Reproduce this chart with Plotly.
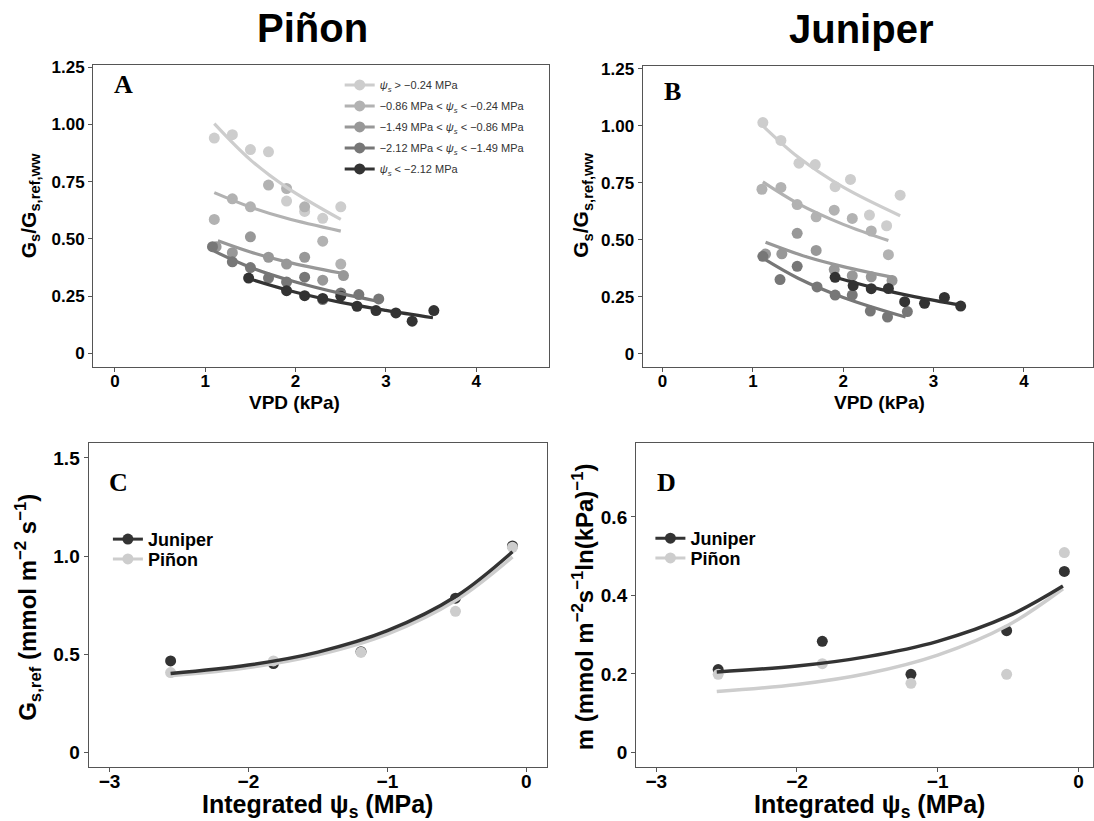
import plotly.graph_objects as go

W, H = 1094, 821

# ---------------- data: panel A (Piñon) ----------------
series_labels = [
    "<i>ψ<sub>s</sub></i> > −0.24 MPa",
    "−0.86 MPa < <i>ψ<sub>s</sub></i> < −0.24 MPa",
    "−1.49 MPa < <i>ψ<sub>s</sub></i> < −0.86 MPa",
    "−2.12 MPa < <i>ψ<sub>s</sub></i> < −1.49 MPa",
    "<i>ψ<sub>s</sub></i> < −2.12 MPa",
]
series_colors = ["#cdcdcd", "#b2b2b2", "#989898", "#777777", "#333333"]

a1_x = [1.1, 1.3, 1.5, 1.7, 1.9, 2.1, 2.3, 2.5]
a1_y = [0.94, 0.955, 0.89, 0.88, 0.665, 0.62, 0.59, 0.64]
a2_x = [1.1, 1.3, 1.5, 1.7, 1.9, 2.1, 2.3, 2.5]
a2_y = [0.585, 0.675, 0.64, 0.735, 0.72, 0.64, 0.49, 0.39]
a3_x = [1.12, 1.3, 1.5, 1.7, 1.9, 2.1, 2.3, 2.53]
a3_y = [0.466, 0.44, 0.509, 0.42, 0.39, 0.42, 0.32, 0.34]
a4_x = [1.08, 1.3, 1.5, 1.7, 1.9, 2.1, 2.3, 2.5, 2.7, 2.92]
a4_y = [0.466, 0.40, 0.375, 0.329, 0.312, 0.333, 0.235, 0.264, 0.257, 0.238]
a5_x = [1.48, 1.9, 2.1, 2.3, 2.5, 2.68, 2.89, 3.11, 3.29, 3.53]
a5_y = [0.329, 0.274, 0.252, 0.24, 0.25, 0.206, 0.187, 0.177, 0.141, 0.187]

# fitted curves (Piñon)
fa1_x = [1.1, 1.5, 1.9, 2.5]
fa1_y = [1.003, 0.845, 0.725, 0.585]
fa2_x = [1.1, 1.5, 1.9, 2.5]
fa2_y = [0.702, 0.639, 0.590, 0.534]
fa3_x = [1.14, 1.5, 1.9, 2.5]
fa3_y = [0.492, 0.443, 0.400, 0.351]
fa4_x = [1.07, 1.5, 2.0, 2.5, 2.92]
fa4_y = [0.452, 0.376, 0.312, 0.262, 0.227]
fa5_x = [1.46, 2.0, 2.5, 3.0, 3.52]
fa5_y = [0.329, 0.267, 0.223, 0.188, 0.156]

# ---------------- data: panel B (Juniper) ----------------
b1_x = [1.11, 1.31, 1.51, 1.69, 1.91, 2.08, 2.29, 2.48, 2.63]
b1_y = [1.014, 0.936, 0.836, 0.83, 0.733, 0.765, 0.609, 0.562, 0.696]
b2_x = [1.1, 1.31, 1.49, 1.7, 1.9, 2.1, 2.31, 2.5]
b2_y = [0.722, 0.73, 0.655, 0.601, 0.63, 0.594, 0.539, 0.435]
b3_x = [1.14, 1.32, 1.49, 1.7, 1.9, 2.1, 2.31, 2.54]
b3_y = [0.438, 0.439, 0.529, 0.454, 0.37, 0.343, 0.338, 0.322]
b4_x = [1.11, 1.3, 1.49, 1.71, 1.91, 2.1, 2.3, 2.49, 2.71]
b4_y = [0.428, 0.326, 0.384, 0.294, 0.258, 0.258, 0.188, 0.162, 0.186]
b5_x = [1.91, 2.11, 2.31, 2.5, 2.68, 2.9, 3.12, 3.3]
b5_y = [0.336, 0.30, 0.286, 0.287, 0.229, 0.222, 0.248, 0.21]

fb1_x = [1.11, 1.5, 2.0, 2.63]
fb1_y = [1.0, 0.863, 0.731, 0.606]
fb2_x = [1.11, 1.5, 2.0, 2.5]
fb2_y = [0.754, 0.659, 0.568, 0.497]
fb3_x = [1.14, 1.6, 2.0, 2.55]
fb3_y = [0.490, 0.425, 0.383, 0.336]
fb4_x = [1.11, 1.5, 2.0, 2.69]
fb4_y = [0.420, 0.332, 0.248, 0.162]
fb5_x = [1.91, 2.3, 2.8, 3.3]
fb5_y = [0.336, 0.294, 0.250, 0.214]

# ---------------- data: panels C and D ----------------
species = ["Juniper", "Piñon"]
species_colors = ["#333333", "#cdcdcd"]
psi_x = [-2.56, -1.82, -1.19, -0.51, -0.10]
c_jun_y = [0.466, 0.453, 0.513, 0.786, 1.052]
c_pin_y = [0.407, 0.466, 0.51, 0.719, 1.045]
d_jun_y = [0.211, 0.283, 0.199, 0.310, 0.461]
d_pin_y = [0.199, 0.226, 0.176, 0.199, 0.509]

fc_x = [-2.56, -2.0, -1.5, -1.0, -0.5, -0.10]
fc_jun_y = [0.402, 0.445, 0.511, 0.620, 0.798, 1.022]
fc_pin_y = [0.390, 0.432, 0.497, 0.603, 0.778, 0.996]
fd_x = [-2.57, -2.0, -1.5, -1.0, -0.5, -0.11]
fd_jun_y = [0.205, 0.220, 0.244, 0.283, 0.347, 0.424]
fd_pin_y = [0.155, 0.173, 0.201, 0.248, 0.324, 0.417]

a_ticks = [0, 0.25, 0.5, 0.75, 1.0, 1.25]
a_ticktext = ["0", "0.25", "0.50", "0.75", "1.00", "1.25"]
vpd_ticks = [0, 1, 2, 3, 4]
psi_ticks = [-3, -2, -1, 0]
psi_ticktext = ["−3", "−2", "−1", "0"]
c_ticks = [0, 0.5, 1.0, 1.5]
c_ticktext = ["0", "0.5", "1.0", "1.5"]
d_ticks = [0, 0.2, 0.4, 0.6]
d_ticktext = ["0", "0.2", "0.4", "0.6"]

SANS = "Liberation Sans, Arial, sans-serif"
SERIF = "Liberation Serif, Times New Roman, serif"

fig = go.Figure()

def add_panel_series(pts, fits, xa, ya):
    # points first, then fitted curves on top
    for (x, y), col in zip(pts, series_colors):
        fig.add_trace(go.Scatter(x=x, y=y, mode="markers", xaxis=xa, yaxis=ya,
                                 marker=dict(color=col, size=11), showlegend=False,
                                 hoverinfo="skip"))
    for (x, y), col in zip(fits, series_colors):
        fig.add_trace(go.Scatter(x=x, y=y, mode="lines", xaxis=xa, yaxis=ya,
                                 line=dict(color=col, width=3.2, shape="spline"),
                                 showlegend=False, hoverinfo="skip"))

add_panel_series([(a1_x, a1_y), (a2_x, a2_y), (a3_x, a3_y), (a4_x, a4_y), (a5_x, a5_y)],
                 [(fa1_x, fa1_y), (fa2_x, fa2_y), (fa3_x, fa3_y), (fa4_x, fa4_y), (fa5_x, fa5_y)],
                 "x", "y")
add_panel_series([(b1_x, b1_y), (b2_x, b2_y), (b3_x, b3_y), (b4_x, b4_y), (b5_x, b5_y)],
                 [(fb1_x, fb1_y), (fb2_x, fb2_y), (fb3_x, fb3_y), (fb4_x, fb4_y), (fb5_x, fb5_y)],
                 "x2", "y2")

# legend entries for panel A
for i, (lab, col) in enumerate(zip(series_labels, series_colors)):
    fig.add_trace(go.Scatter(x=[None], y=[None], mode="lines+markers", name=lab,
                             xaxis="x", yaxis="y", legendgroup=f"g{i}",
                             line=dict(color=col, width=3), marker=dict(color=col, size=11),
                             legend="legend"))

# panels C and D (each species gets its own legend box so spacing can be tight)
for xa, ya, pts, fits, fx, lgs in [
    ("x3", "y3", [c_jun_y, c_pin_y], [fc_jun_y, fc_pin_y], fc_x, ["legend2", "legend4"]),
    ("x4", "y4", [d_jun_y, d_pin_y], [fd_jun_y, fd_pin_y], fd_x, ["legend3", "legend5"]),
]:
    for y, col in zip(pts, species_colors):
        fig.add_trace(go.Scatter(x=psi_x, y=y, mode="markers", xaxis=xa, yaxis=ya,
                                 marker=dict(color=col, size=11), showlegend=False,
                                 hoverinfo="skip"))
    for y, col in list(zip(fits, species_colors))[::-1]:
        fig.add_trace(go.Scatter(x=fx, y=y, mode="lines", xaxis=xa, yaxis=ya,
                                 line=dict(color=col, width=3.5, shape="spline"),
                                 showlegend=False, hoverinfo="skip"))
    for name, col, lg in zip(species, species_colors, lgs):
        fig.add_trace(go.Scatter(x=[None], y=[None], mode="lines+markers", name=name,
                                 xaxis=xa, yaxis=ya, legend=lg,
                                 line=dict(color=col, width=3), marker=dict(color=col, size=11)))

def dom_x(a, b):
    return [a / W, min(b / W, 1.0)]

def dom_y(top, bottom):
    return [1 - bottom / H, 1 - top / H]

axis_common = dict(showline=True, linecolor="#555555", linewidth=1.2, mirror=True,
                   ticks="outside", ticklen=4, tickcolor="#555555", tickwidth=1,
                   showgrid=False, zeroline=False)

tick_ab = dict(family=SANS, size=17, color="black", weight="bold")
tick_cd = dict(family=SANS, size=19, color="black", weight="bold")

def cd_legend(x, y):
    return dict(x=x / W, y=1 - y / H, xanchor="left", yanchor="middle",
                bgcolor="rgba(0,0,0,0)", borderwidth=0,
                font=dict(family=SANS, size=18, color="black", weight="bold"))

fig.update_layout(
    width=W, height=H, margin=dict(l=0, r=0, t=0, b=0),
    paper_bgcolor="white", plot_bgcolor="white",
    xaxis=dict(domain=dom_x(93.3, 550), range=[-0.24, 4.81], tickvals=vpd_ticks,
               tickfont=tick_ab, anchor="y", ticklabelstandoff=-6, **axis_common),
    yaxis=dict(domain=dom_y(58.3, 363.3), range=[-0.06, 1.26], tickvals=a_ticks,
               ticktext=a_ticktext, tickfont=tick_ab, anchor="x", **axis_common),
    xaxis2=dict(domain=dom_x(643.3, 1094), range=[-0.22, 4.765], tickvals=vpd_ticks,
                tickfont=tick_ab, anchor="y2", ticklabelstandoff=-6, **axis_common),
    yaxis2=dict(domain=dom_y(60, 363.3), range=[-0.058, 1.26], tickvals=a_ticks,
                ticktext=a_ticktext, tickfont=tick_ab, anchor="x2", **axis_common),
    xaxis3=dict(domain=dom_x(88.7, 547.7), range=[-3.15, 0.15], tickvals=psi_ticks,
                ticktext=psi_ticktext, tickfont=tick_cd, anchor="y3",
                ticklabelstandoff=-7, **axis_common),
    yaxis3=dict(domain=dom_y(440, 766.7), range=[-0.075, 1.575], tickvals=c_ticks,
                ticktext=c_ticktext, tickfont=tick_cd, anchor="x3", **axis_common),
    xaxis4=dict(domain=dom_x(636.7, 1094), range=[-3.143, 0.1036], tickvals=psi_ticks,
                ticktext=psi_ticktext, tickfont=tick_cd, anchor="y4",
                ticklabelstandoff=-7, **axis_common),
    yaxis4=dict(domain=dom_y(440, 766.7), range=[-0.0375, 0.7875], tickvals=d_ticks,
                ticktext=d_ticktext, tickfont=tick_cd, anchor="x4", **axis_common),
    legend=dict(x=340 / W, y=1 - 64 / H, xanchor="left", yanchor="top",
                bgcolor="rgba(0,0,0,0)", font=dict(family=SANS, size=11, color="#333333"),
                tracegroupgap=2, itemsizing="trace"),
    legend2=cd_legend(108, 537),
    legend4=cd_legend(108, 557),
    legend3=cd_legend(651, 536),
    legend5=cd_legend(651, 556),
    showlegend=True,
)

ann = []
def add_text(text, x, y, size, family=SANS, angle=0, weight="bold", color="black"):
    ann.append(dict(text=text, x=x / W, y=1 - y / H, xref="paper", yref="paper",
                    showarrow=False, textangle=angle, xanchor="center", yanchor="middle",
                    font=dict(family=family, size=size, color=color, weight=weight)))

add_text("Piñon", 313, 21, 40)
add_text("Juniper", 862, 22, 40)
add_text("A", 124, 78, 26, family=SERIF)
add_text("B", 673, 85, 26, family=SERIF)
add_text("C", 119, 480, 26, family=SERIF)
add_text("D", 667, 480, 26, family=SERIF)
add_text("VPD (kPa)", 295, 399, 19)
add_text("VPD (kPa)", 880, 399, 19)
add_text("G<sub>s</sub>/G<sub>s,ref,ww</sub>", 30, 200, 21, angle=-90)
add_text("G<sub>s</sub>/G<sub>s,ref,ww</sub>", 583, 200, 21, angle=-90)
add_text("Integrated ψ<sub>s</sub> (MPa)", 318, 806, 25)
add_text("Integrated ψ<sub>s</sub> (MPa)", 870, 806, 25)
add_text("G<sub>s,ref</sub> (mmol m<sup>−2</sup> s<sup>−1</sup>)", 28, 605, 24, angle=-90)
add_text("m (mmol m<sup>−2</sup>s<sup>−1</sup>ln(kPa)<sup>−1</sup>)", 583, 605, 24, angle=-90)
fig.update_layout(annotations=ann)

fig.write_html(
    "out.html",
    config={"displayModeBar": False},
    post_script=(
        "document.documentElement.style.margin='0';"
        "document.documentElement.style.padding='0';"
        "document.documentElement.style.overflow='hidden';"
        "document.body.style.margin='0';"
        "document.body.style.padding='0';"
        "document.body.style.overflow='hidden';"
    ),
)
